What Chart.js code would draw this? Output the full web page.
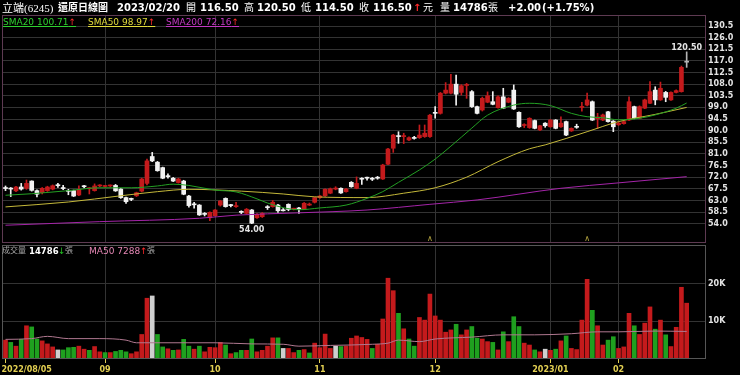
<!DOCTYPE html>
<html>
<head>
<meta charset="utf-8">
<script src="https://cdn.jsdelivr.net/npm/chart.js@4.4.0/dist/chart.umd.min.js"></script>
<style>
  body { margin: 0; background: #000; width: 740px; height: 375px; overflow: hidden; position: relative;
         font-family: "DejaVu Sans", "Noto Sans CJK TC", sans-serif; }
  canvas { position: absolute; left: 0; }
  #priceCanvas { top: 0; }
  #volCanvas { top: 245px; }
  .t { position: absolute; white-space: nowrap; line-height: 12px; color: #fff; }
  .hd { top: 2px; font-size: 10px; font-weight: bold; }
  .lg { top: 16px; font-size: 9px; text-decoration: underline; }
  .vl { top: 245px; font-size: 9px; }
  .up { color: #ff2a2a; }
  .dn { color: #22c022; }
</style>
</head>
<body>
<canvas id="priceCanvas" width="740" height="245"></canvas>
<canvas id="volCanvas" width="740" height="130"></canvas>

<!-- header line -->
<span class="t hd" style="left:2px;font-weight:normal;font-family:'Liberation Serif','Noto Sans CJK TC';font-size:11px">立端(6245)</span>
<span class="t hd" style="left:58px">還原日線圖</span>
<span class="t hd" style="left:117px">2023/02/20</span>
<span class="t hd" style="left:186px;font-weight:normal">開</span>
<span class="t hd" style="left:200px">116.50</span>
<span class="t hd" style="left:244px;font-weight:normal">高</span>
<span class="t hd" style="left:257px">120.50</span>
<span class="t hd" style="left:301px;font-weight:normal">低</span>
<span class="t hd" style="left:315px">114.50</span>
<span class="t hd" style="left:359px;font-weight:normal">收</span>
<span class="t hd" style="left:373px">116.50</span>
<span class="t hd up" style="left:413px">↑</span>
<span class="t hd" style="left:423px;font-weight:normal">元</span>
<span class="t hd" style="left:440px;font-weight:normal">量</span>
<span class="t hd" style="left:453px">14786</span>
<span class="t hd" style="left:488px;font-weight:normal">張</span>
<span class="t hd" style="left:508px">+2.00</span>
<span class="t hd" style="left:542px">(+1.75%)</span>

<!-- moving average legend -->
<span class="t lg" style="left:3px;color:#2fd02f">SMA20 100.71<span class="up">↑</span></span>
<span class="t lg" style="left:88px;color:#e2dc3c">SMA50 98.97<span class="up">↑</span></span>
<span class="t lg" style="left:166px;color:#c438c4">SMA200 72.16<span class="up">↑</span></span>

<!-- volume legend -->
<span class="t vl" style="left:2px;color:#a8a8a8;font-size:8px">成交量</span>
<span class="t vl" style="left:29px;font-weight:bold;font-size:8.5px">14786</span>
<span class="t vl dn" style="left:58px">↓</span>
<span class="t vl" style="left:65px;color:#a8a8a8;font-size:8px">張</span>
<span class="t vl" style="left:89px;color:#e487b4">MA50 7288</span>
<span class="t vl up" style="left:140px">↑</span>
<span class="t vl" style="left:147px;color:#a8a8a8;font-size:8px">張</span>

<script>
// ---- data (index = trading day, 2022/08/05 .. 2023/02/20) ----
const monthIdx = [0, 19, 40, 60, 82, 104, 117];
const monthLabels = ['2022/08/05', '09', '10', '11', '12', '2023/01', '02'];
const priceTicks = [54, 58.5, 63, 67.5, 72, 76.5, 81, 85.5, 90, 94.5, 99, 103.5, 108, 112.5, 117, 121.5, 126, 130.5];
const volTicks = [10, 20];
const markIdx = [81, 111];

const open = [
  68.0, 67.7, 66.7, 68.2, 67.7, 70.5, 66.8, 66.0, 66.8, 67.4,
  68.9, 67.9, 66.8, 66.8, 65.1, 68.5, 67.5, 66.8, 68.6, 68.4,
  68.6, 68.8, 67.4, 64.1, 63.6, 64.8, 66.6, 69.6, 80.0, 77.8,
  75.7, 72.4, 71.6, 69.9, 70.5, 64.7, 61.5, 61.2, 58.0, 56.3,
  57.1, 61.2, 63.8, 61.2, 60.6, 58.6, 58.0, 59.3, 56.3, 56.7,
  60.4, 60.6, 61.2, 59.4, 61.5, 59.6, 60.0, 59.7, 61.2, 62.3,
  64.1, 64.8, 65.8, 67.4, 67.7, 66.4, 70.0, 67.7, 71.4, 71.8,
  71.4, 71.8, 71.3, 77.0, 83.2, 88.0, 87.7, 86.4, 87.3, 87.3,
  87.7, 87.7, 97.0, 96.7, 104.5, 104.5, 108.0, 104.8, 107.5, 105.1,
  99.3, 98.0, 101.0, 101.2, 98.9, 103.1, 101.0, 105.7, 97.1, 92.0,
  91.2, 93.9, 90.3, 92.9, 91.5, 94.1, 91.5, 93.5, 89.9, 91.6,
  99.0, 99.9, 101.2, 94.6, 94.1, 97.3, 93.7, 92.3, 92.7, 94.1,
  99.3, 94.8, 98.7, 100.6, 105.7, 101.9, 104.8, 101.9, 104.8, 105.1,
  116.5
];
const high = [
  68.6, 68.0, 68.5, 69.6, 70.9, 70.6, 67.1, 68.0, 68.5, 69.0,
  69.6, 68.8, 67.3, 67.0, 68.7, 68.8, 68.0, 69.4, 69.1, 68.8,
  69.0, 69.2, 67.6, 64.3, 63.9, 66.2, 71.6, 79.0, 81.6, 78.1,
  75.9, 73.3, 71.9, 71.6, 70.8, 65.0, 62.3, 61.4, 58.3, 58.6,
  59.5, 63.0, 64.0, 61.5, 62.3, 59.0, 59.9, 59.5, 57.9, 58.3,
  61.0, 63.0, 61.5, 59.9, 61.7, 60.0, 60.3, 62.2, 62.0, 64.3,
  65.0, 67.5, 67.8, 68.3, 67.9, 67.7, 70.3, 72.1, 71.8, 72.0,
  71.9, 72.3, 77.0, 83.2, 88.6, 89.6, 89.0, 87.6, 87.8, 92.2,
  92.2, 96.3, 99.3, 104.8, 108.6, 111.8, 111.5, 107.8, 108.3, 105.5,
  99.5, 103.0, 105.0, 105.1, 103.5, 106.4, 102.8, 107.7, 97.3, 92.7,
  95.0, 94.1, 92.1, 93.1, 94.3, 94.3, 95.4, 93.7, 91.1, 92.5,
  101.0, 104.5, 101.5, 96.7, 96.4, 97.5, 93.9, 93.4, 93.9, 103.1,
  99.5, 99.6, 102.2, 109.0, 107.0, 108.8, 105.2, 105.0, 105.8, 115.0,
  120.5
];
const low = [
  66.8, 64.5, 66.4, 67.0, 67.3, 66.6, 64.4, 65.5, 66.5, 67.1,
  68.0, 67.2, 65.2, 64.5, 64.8, 67.8, 65.5, 66.6, 68.3, 68.1,
  68.2, 66.5, 63.8, 61.8, 62.9, 64.5, 66.3, 69.0, 78.0, 74.3,
  71.4, 71.6, 70.3, 69.7, 65.2, 60.4, 60.0, 57.2, 57.0, 55.2,
  56.9, 60.8, 60.4, 60.5, 60.3, 57.9, 57.8, 54.0, 56.0, 56.4,
  59.5, 60.4, 58.4, 58.9, 59.0, 59.3, 58.0, 59.5, 61.0, 62.0,
  63.8, 64.6, 65.6, 67.1, 65.7, 66.2, 68.1, 67.5, 69.2, 70.8,
  70.7, 71.2, 71.1, 76.8, 81.6, 85.1, 85.0, 86.1, 86.7, 87.0,
  87.4, 87.4, 94.8, 96.4, 104.2, 104.2, 99.9, 103.8, 102.5, 99.0,
  96.5, 97.6, 100.8, 100.0, 98.7, 98.5, 100.8, 98.2, 91.3, 91.2,
  90.9, 90.7, 90.0, 91.3, 91.3, 90.7, 91.3, 88.1, 89.7, 90.9,
  97.5, 99.6, 93.9, 90.9, 93.9, 93.3, 89.6, 92.0, 92.5, 93.9,
  94.6, 94.6, 98.5, 100.4, 100.0, 101.7, 101.2, 101.7, 104.6, 104.9,
  114.5
];
const close = [
  67.6, 67.4, 68.2, 67.4, 69.6, 66.9, 65.4, 67.7, 68.2, 68.7,
  68.7, 67.6, 66.5, 64.7, 67.3, 68.3, 67.9, 68.6, 68.8, 68.6,
  68.7, 66.7, 64.1, 62.5, 63.4, 66.0, 71.3, 78.3, 78.3, 74.5,
  71.6, 72.2, 70.5, 71.3, 65.4, 61.0, 61.3, 57.4, 57.6, 58.4,
  59.3, 62.8, 60.6, 61.0, 60.8, 58.4, 59.6, 54.2, 57.6, 58.0,
  60.2, 62.3, 59.0, 59.0, 59.5, 59.8, 59.7, 61.9, 61.6, 64.1,
  64.7, 67.3, 67.5, 67.5, 65.9, 67.4, 68.3, 69.6, 71.2, 71.6,
  71.2, 71.6, 76.7, 82.9, 88.3, 87.7, 88.0, 87.3, 87.0, 88.3,
  89.0, 96.0, 96.7, 104.5, 105.7, 108.0, 104.1, 107.4, 107.7, 99.3,
  96.7, 102.5, 103.5, 100.2, 103.1, 98.7, 102.5, 98.4, 91.5, 92.2,
  94.8, 90.9, 91.9, 91.9, 94.1, 90.9, 92.9, 88.3, 90.9, 91.3,
  99.3, 101.9, 94.1, 95.3, 96.1, 93.5, 91.5, 92.9, 93.5, 101.2,
  94.8, 99.3, 101.9, 105.1, 101.9, 106.4, 102.9, 104.8, 105.5, 114.5,
  116.5
];
// volume in thousands of lots (張)
const volK = [
  5.0, 4.4, 3.4, 5.2, 8.8, 8.5, 5.3, 4.8, 4.0, 3.2,
  2.4, 2.4, 3.0, 3.1, 3.4, 2.6, 2.3, 3.3, 1.9, 1.7,
  1.7, 2.0, 2.3, 1.9, 1.4, 1.9, 6.5, 16.1, 16.7, 6.5,
  3.2, 2.7, 2.3, 2.4, 5.2, 3.4, 2.6, 3.4, 1.9, 3.1,
  3.0, 4.4, 3.7, 1.4, 1.7, 2.3, 2.3, 5.3, 1.9, 2.3,
  3.4, 5.6, 5.6, 2.8, 2.8, 1.7, 2.3, 2.5, 1.6, 4.2,
  3.0, 6.6, 2.8, 3.4, 3.3, 3.4, 5.5, 6.1, 5.7, 5.2,
  2.8, 3.9, 10.6, 21.4, 18.1, 12.1, 8.0, 5.3, 3.4, 11.0,
  10.3, 17.2, 11.4, 10.3, 7.1, 7.7, 9.2, 6.4, 7.7, 8.6,
  5.5, 5.3, 4.6, 4.4, 2.4, 7.2, 4.6, 11.2, 8.6, 4.2,
  3.7, 2.4, 1.9, 2.6, 2.3, 2.6, 4.8, 6.1, 2.8, 2.5,
  10.3, 21.1, 12.9, 8.8, 3.7, 5.0, 5.9, 2.8, 3.2, 12.1,
  8.8, 6.5, 9.5, 13.8, 7.9, 10.3, 6.4, 3.3, 8.4, 19.0,
  14.786
];

// moving-average lines, read at [index, value]
const sma20 = [[0, 65.0], [5, 65.6], [12, 66.8], [18, 67.9], [24, 67.9], [29, 68.6], [32, 69.3], [35, 68.8],
  [40, 67.0], [44, 66.3], [48, 63.6], [50, 62.0], [53, 60.2], [56, 59.4], [60, 60.1], [65, 61.2], [69, 63.8],
  [72, 66.4], [75, 70.0], [79, 74.8], [82, 79.0], [85, 84.0], [89, 91.0], [92, 96.0], [97, 99.9], [100, 100.6],
  [104, 99.7], [108, 96.7], [111, 95.4], [114, 95.0], [117, 94.2], [121, 94.8], [124, 96.1], [128, 98.7], [130, 100.7]];
const sma50 = [[0, 60.5], [12, 62.4], [22, 64.8], [29, 66.4], [35, 67.3], [45, 66.6], [53, 65.5], [59, 64.4],
  [69, 64.1], [76, 65.8], [82, 67.9], [88, 72.0], [94, 78.0], [100, 83.0], [103, 84.5], [111, 89.6],
  [117, 93.5], [124, 96.3], [130, 99.0]];
const sma200 = [[0, 53.4], [18, 54.8], [37, 56.1], [44, 57.3], [56, 58.2], [69, 59.3], [81, 61.5], [90, 63.2],
  [106, 67.7], [117, 69.8], [130, 72.2]];
const volMa50 = [[0, 5.2], [5, 5.4], [8, 6.0], [12, 5.4], [18, 5.4], [23, 5.0], [25, 4.3], [40, 4.3], [47, 4.0],
  [53, 3.9], [56, 3.4], [62, 3.6], [70, 3.9], [73, 4.2], [75, 5.0], [79, 4.6], [82, 5.3], [89, 5.8], [95, 6.4],
  [101, 6.4], [108, 6.7], [113, 7.2], [117, 7.2], [124, 7.4], [130, 7.3]];

// ---- colours / helpers ----
const RED = '#c41a1c', WHITE = '#f2f2f2', DOJI = '#b4b4b4', GREEN = '#1fa01f', VGRAY = '#cfcfcf';
const GRID = '#333333';
const X_MIN = -0.67, X_MAX = 133.69;
const idx = close.map((_, i) => i);
const candleColors = idx.map(i => close[i] > open[i] ? RED : (close[i] < open[i] ? WHITE : DOJI));
const volColors = idx.map(i => {
    if (i === 0) return RED;
    if (close[i] > close[i - 1]) return RED;
    if (close[i] < close[i - 1]) return GREEN;
    return VGRAY;
});
const pts = arr => arr.map(p => ({ x: p[0], y: p[1] }));
const hiIdx = high.indexOf(Math.max(...high));
const loIdx = low.indexOf(Math.min(...low));
const fontAxis = { family: 'DejaVu Sans', size: 8, weight: 'bold' };

// keep the axes from pushing the plot area around
const fitX = h => s => { s.height = h; s.paddingLeft = 0; s.paddingRight = 0; };
const fitY = s => { s.width = 34; s.paddingTop = 0; s.paddingBottom = 0; };

function lineSet(data, color) {
    return { type: 'line', data: pts(data), borderColor: color, borderWidth: 1, pointRadius: 0,
             cubicInterpolationMode: 'monotone', order: 0 };
}

// frame + labels on the price panel
const priceMarks = {
    id: 'priceMarks',
    afterDraw(chart) {
        const { ctx, chartArea: a, scales: { x, y } } = chart;
        ctx.save();
        ctx.strokeStyle = '#5e3a52';
        ctx.lineWidth = 1;
        ctx.strokeRect(a.left + 0.5, a.top + 0.5, a.right - a.left - 1, a.bottom - a.top - 1);

        ctx.fillStyle = '#e4e4e4';
        ctx.font = 'bold 8px "DejaVu Sans"';
        ctx.textAlign = 'center';
        ctx.textBaseline = 'alphabetic';
        ctx.fillText(high[hiIdx].toFixed(2), x.getPixelForValue(hiIdx), y.getPixelForValue(high[hiIdx]) - 2);
        ctx.textBaseline = 'top';
        ctx.fillText(low[loIdx].toFixed(2), x.getPixelForValue(loIdx), y.getPixelForValue(low[loIdx]) + 2);

        ctx.fillStyle = '#b8a840';
        ctx.font = '8px "DejaVu Sans"';
        ctx.textBaseline = 'bottom';
        markIdx.forEach(i => ctx.fillText('∧', x.getPixelForValue(i), a.bottom));
        ctx.restore();
    }
};

// frame + month labels on the volume panel
const volMarks = {
    id: 'volMarks',
    afterDraw(chart) {
        const { ctx, chartArea: a, scales: { x } } = chart;
        ctx.save();
        ctx.strokeStyle = '#565656';
        ctx.lineWidth = 1;
        ctx.strokeRect(a.left + 0.5, a.top + 0.5, a.right - a.left - 1, a.bottom - a.top - 1);
        ctx.fillStyle = '#e2cf52';
        ctx.font = 'bold 8px "DejaVu Sans"';
        ctx.textBaseline = 'middle';
        monthIdx.forEach((m, k) => {
            const px = x.getPixelForValue(m);
            ctx.textAlign = k === 0 ? 'left' : 'center';
            ctx.fillText(monthLabels[k], k === 0 ? px - 4 : px, a.bottom + 11);
        });
        ctx.restore();
    }
};

new Chart(document.getElementById('priceCanvas'), {
    type: 'bar',
    data: {
        datasets: [
            lineSet(sma20, '#23a023'),
            lineSet(sma50, '#c4b83a'),
            lineSet(sma200, '#a424a8'),
            { data: idx.map(i => ({ x: i, y: [open[i], close[i]] })), backgroundColor: candleColors,
              barThickness: 4, minBarLength: 1, grouped: false, order: 2 },
            { data: idx.map(i => ({ x: i, y: [low[i], high[i]] })), backgroundColor: candleColors,
              barThickness: 1, grouped: false, order: 3 }
        ]
    },
    options: {
        responsive: false,
        animation: false,
        events: [],
        layout: { padding: { left: 2, top: 15, right: 0, bottom: 2 } },
        plugins: { legend: { display: false }, tooltip: { enabled: false } },
        scales: {
            x: {
                type: 'linear', min: X_MIN, max: X_MAX, offset: false,
                afterBuildTicks: s => { s.ticks = monthIdx.slice(1).map(v => ({ value: v })); },
                afterFit: fitX(0),
                ticks: { display: false },
                grid: { color: GRID, drawTicks: false, offset: false },
                border: { display: false }
            },
            y: {
                position: 'right', min: 46.53, max: 134.76,
                afterBuildTicks: s => { s.ticks = priceTicks.map(v => ({ value: v })); },
                afterFit: fitY,
                ticks: { color: '#e4e4e4', font: fontAxis, padding: 2, callback: v => v.toFixed(1) },
                grid: { color: GRID, drawTicks: false },
                border: { display: false }
            }
        }
    },
    plugins: [priceMarks]
});

new Chart(document.getElementById('volCanvas'), {
    type: 'bar',
    data: {
        datasets: [
            lineSet(volMa50, '#b07890'),
            { data: idx.map(i => ({ x: i, y: volK[i] })), backgroundColor: volColors,
              barThickness: 4, grouped: false, order: 1 }
        ]
    },
    options: {
        responsive: false,
        animation: false,
        events: [],
        layout: { padding: { left: 2, top: 0, right: 0, bottom: 0 } },
        plugins: { legend: { display: false }, tooltip: { enabled: false } },
        scales: {
            x: {
                type: 'linear', min: X_MIN, max: X_MAX, offset: false,
                afterBuildTicks: s => { s.ticks = monthIdx.map(v => ({ value: v })); },
                afterFit: fitX(16),
                ticks: { display: false },
                grid: {
                    color: c => (c.tick && c.tick.value === 0) ? 'rgba(0,0,0,0)' : GRID,
                    tickColor: '#e2cf52', tickLength: 4, offset: false
                },
                border: { display: false }
            },
            y: {
                position: 'right', min: 0, max: 30.2,
                afterBuildTicks: s => { s.ticks = volTicks.map(v => ({ value: v })); },
                afterFit: fitY,
                ticks: { color: '#e4e4e4', font: fontAxis, padding: 2, callback: v => v + 'K' },
                grid: { color: GRID, drawTicks: false },
                border: { display: false }
            }
        }
    },
    plugins: [volMarks]
});
</script>
</body>
</html>
